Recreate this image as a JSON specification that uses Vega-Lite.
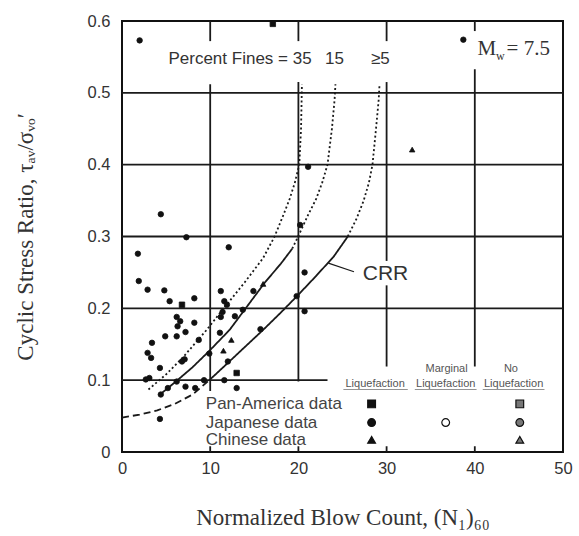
{
  "$schema": "https://vega.github.io/schema/vega-lite/v6.json",
  "width": 441,
  "height": 431,
  "autosize": {"type": "none"},
  "padding": {"left": 122, "top": 21, "right": 16, "bottom": 84},
  "background": "white",
  "config": {
    "view": {"stroke": "#111", "strokeWidth": 2},
    "text": {"font": "Liberation Sans", "color": "#333", "baseline": "middle"}
  },
  "datasets": {
    "grid": [
      {"x": 0, "x2": 50, "y": 0.5, "y2": 0.5},
      {"x": 0, "x2": 50, "y": 0.4, "y2": 0.4},
      {"x": 0, "x2": 50, "y": 0.3, "y2": 0.3},
      {"x": 0, "x2": 50, "y": 0.2, "y2": 0.2},
      {"x": 0, "x2": 23.3, "y": 0.1, "y2": 0.1},
      {"x": 10, "x2": 10, "y": 0.085, "y2": 0.512},
      {"x": 10, "x2": 10, "y": 0.572, "y2": 0.6},
      {"x": 20, "x2": 20, "y": 0.098, "y2": 0.515},
      {"x": 20, "x2": 20, "y": 0.572, "y2": 0.6},
      {"x": 30, "x2": 30, "y": 0.119, "y2": 0.232},
      {"x": 30, "x2": 30, "y": 0.266, "y2": 0.515},
      {"x": 30, "x2": 30, "y": 0.572, "y2": 0.6},
      {"x": 40, "x2": 40, "y": 0.119, "y2": 0.533},
      {"x": 40, "x2": 40, "y": 0.586, "y2": 0.6},
      {"x": 10, "x2": 10, "y": 0, "y2": 0.008},
      {"x": 20, "x2": 20, "y": 0, "y2": 0.008},
      {"x": 30, "x2": 30, "y": 0, "y2": 0.008},
      {"x": 40, "x2": 40, "y": 0, "y2": 0.008}
    ],
    "curves": [
      {"seg": "crr_solid", "style": "solid", "x": 9.9, "y": 0.1},
      {"seg": "crr_solid", "style": "solid", "x": 12, "y": 0.124},
      {"seg": "crr_solid", "style": "solid", "x": 14, "y": 0.147},
      {"seg": "crr_solid", "style": "solid", "x": 16, "y": 0.17},
      {"seg": "crr_solid", "style": "solid", "x": 18, "y": 0.194},
      {"seg": "crr_solid", "style": "solid", "x": 20, "y": 0.219},
      {"seg": "crr_solid", "style": "solid", "x": 22, "y": 0.245},
      {"seg": "crr_solid", "style": "solid", "x": 24, "y": 0.272},
      {"seg": "crr_solid", "style": "solid", "x": 25.6, "y": 0.3},
      {"seg": "crr_dot", "style": "dotted", "x": 25.6, "y": 0.3},
      {"seg": "crr_dot", "style": "dotted", "x": 26.6, "y": 0.325},
      {"seg": "crr_dot", "style": "dotted", "x": 27.4, "y": 0.35},
      {"seg": "crr_dot", "style": "dotted", "x": 28.0, "y": 0.375},
      {"seg": "crr_dot", "style": "dotted", "x": 28.4, "y": 0.4},
      {"seg": "crr_dot", "style": "dotted", "x": 28.8, "y": 0.45},
      {"seg": "crr_dot", "style": "dotted", "x": 29.1, "y": 0.49},
      {"seg": "crr_dot", "style": "dotted", "x": 29.2, "y": 0.512},
      {"seg": "base", "style": "dashed", "x": 0, "y": 0.048},
      {"seg": "base", "style": "dashed", "x": 2, "y": 0.052},
      {"seg": "base", "style": "dashed", "x": 4, "y": 0.058},
      {"seg": "base", "style": "dashed", "x": 6, "y": 0.067},
      {"seg": "base", "style": "dashed", "x": 8, "y": 0.08},
      {"seg": "base", "style": "dashed", "x": 9.9, "y": 0.1},
      {"seg": "f15_solid", "style": "solid", "x": 4.3, "y": 0.08},
      {"seg": "f15_solid", "style": "solid", "x": 6, "y": 0.097},
      {"seg": "f15_solid", "style": "solid", "x": 8, "y": 0.118},
      {"seg": "f15_solid", "style": "solid", "x": 10, "y": 0.142},
      {"seg": "f15_solid", "style": "solid", "x": 12.2, "y": 0.17},
      {"seg": "f15_solid", "style": "solid", "x": 13.9, "y": 0.198},
      {"seg": "f15_solid", "style": "solid", "x": 16.2, "y": 0.236},
      {"seg": "f15_solid", "style": "solid", "x": 18, "y": 0.262},
      {"seg": "f15_solid", "style": "solid", "x": 19.3, "y": 0.283},
      {"seg": "f15_dot", "style": "dotted", "x": 19.3, "y": 0.283},
      {"seg": "f15_dot", "style": "dotted", "x": 20.2, "y": 0.306},
      {"seg": "f15_dot", "style": "dotted", "x": 21.1, "y": 0.33},
      {"seg": "f15_dot", "style": "dotted", "x": 22, "y": 0.352},
      {"seg": "f15_dot", "style": "dotted", "x": 22.7, "y": 0.375},
      {"seg": "f15_dot", "style": "dotted", "x": 23.3, "y": 0.4},
      {"seg": "f15_dot", "style": "dotted", "x": 23.8, "y": 0.45},
      {"seg": "f15_dot", "style": "dotted", "x": 24.1, "y": 0.49},
      {"seg": "f15_dot", "style": "dotted", "x": 24.2, "y": 0.512},
      {"seg": "f35", "style": "dotted", "x": 3.0, "y": 0.087},
      {"seg": "f35", "style": "dotted", "x": 5, "y": 0.108},
      {"seg": "f35", "style": "dotted", "x": 7, "y": 0.133},
      {"seg": "f35", "style": "dotted", "x": 9.6, "y": 0.17},
      {"seg": "f35", "style": "dotted", "x": 11.4, "y": 0.198},
      {"seg": "f35", "style": "dotted", "x": 13.9, "y": 0.236},
      {"seg": "f35", "style": "dotted", "x": 16, "y": 0.27},
      {"seg": "f35", "style": "dotted", "x": 17.3, "y": 0.3},
      {"seg": "f35", "style": "dotted", "x": 18.3, "y": 0.33},
      {"seg": "f35", "style": "dotted", "x": 19, "y": 0.352},
      {"seg": "f35", "style": "dotted", "x": 19.6, "y": 0.375},
      {"seg": "f35", "style": "dotted", "x": 20.1, "y": 0.4},
      {"seg": "f35", "style": "dotted", "x": 20.3, "y": 0.45},
      {"seg": "f35", "style": "dotted", "x": 20.4, "y": 0.512}
    ],
    "leader": [{"x": 23.4, "x2": 26.3, "y": 0.263, "y2": 0.251}],
    "underline": [
      {"x": 25.1, "x2": 32.4, "y": 0.087, "y2": 0.087},
      {"x": 33.2, "x2": 40.2, "y": 0.087, "y2": 0.087},
      {"x": 40.9, "x2": 47.9, "y": 0.087, "y2": 0.087}
    ],
    "pts": [
      {"source": "Japanese", "outcome": "Liquefaction", "x": 2.0, "y": 0.573},
      {"source": "Pan-America", "outcome": "Liquefaction", "x": 17.1, "y": 0.596},
      {"source": "Japanese", "outcome": "Liquefaction", "x": 38.7, "y": 0.574},
      {"source": "Chinese", "outcome": "Liquefaction", "x": 32.9, "y": 0.421},
      {"source": "Japanese", "outcome": "Liquefaction", "x": 21.1, "y": 0.397},
      {"source": "Japanese", "outcome": "Liquefaction", "x": 20.2, "y": 0.316},
      {"source": "Japanese", "outcome": "Liquefaction", "x": 12.1, "y": 0.285},
      {"source": "Japanese", "outcome": "Liquefaction", "x": 20.7, "y": 0.25},
      {"source": "Japanese", "outcome": "Liquefaction", "x": 4.4, "y": 0.331},
      {"source": "Japanese", "outcome": "Liquefaction", "x": 7.3, "y": 0.299},
      {"source": "Japanese", "outcome": "Liquefaction", "x": 1.8, "y": 0.276},
      {"source": "Japanese", "outcome": "Liquefaction", "x": 1.9, "y": 0.238},
      {"source": "Japanese", "outcome": "Liquefaction", "x": 2.9, "y": 0.226},
      {"source": "Japanese", "outcome": "Liquefaction", "x": 4.8, "y": 0.225},
      {"source": "Japanese", "outcome": "Liquefaction", "x": 5.4, "y": 0.21},
      {"source": "Pan-America", "outcome": "Liquefaction", "x": 6.8, "y": 0.205},
      {"source": "Japanese", "outcome": "Liquefaction", "x": 8.2, "y": 0.214},
      {"source": "Japanese", "outcome": "Liquefaction", "x": 11.2, "y": 0.224},
      {"source": "Japanese", "outcome": "Liquefaction", "x": 14.9, "y": 0.224},
      {"source": "Chinese", "outcome": "Liquefaction", "x": 16.0, "y": 0.234},
      {"source": "Japanese", "outcome": "Liquefaction", "x": 19.8, "y": 0.217},
      {"source": "Japanese", "outcome": "Liquefaction", "x": 20.7, "y": 0.196},
      {"source": "Japanese", "outcome": "Liquefaction", "x": 6.2, "y": 0.188},
      {"source": "Japanese", "outcome": "Liquefaction", "x": 6.6, "y": 0.182},
      {"source": "Japanese", "outcome": "Liquefaction", "x": 6.3, "y": 0.175},
      {"source": "Japanese", "outcome": "Liquefaction", "x": 8.2, "y": 0.18},
      {"source": "Japanese", "outcome": "Liquefaction", "x": 7.2, "y": 0.167},
      {"source": "Japanese", "outcome": "Liquefaction", "x": 4.9, "y": 0.161},
      {"source": "Japanese", "outcome": "Liquefaction", "x": 6.2, "y": 0.161},
      {"source": "Japanese", "outcome": "Liquefaction", "x": 8.7, "y": 0.156},
      {"source": "Japanese", "outcome": "Liquefaction", "x": 3.4, "y": 0.152},
      {"source": "Japanese", "outcome": "Liquefaction", "x": 2.9, "y": 0.138},
      {"source": "Japanese", "outcome": "Liquefaction", "x": 3.3, "y": 0.131},
      {"source": "Japanese", "outcome": "Liquefaction", "x": 7.1, "y": 0.129},
      {"source": "Japanese", "outcome": "Liquefaction", "x": 6.8, "y": 0.126},
      {"source": "Japanese", "outcome": "Liquefaction", "x": 9.9, "y": 0.137},
      {"source": "Japanese", "outcome": "Liquefaction", "x": 4.3, "y": 0.117},
      {"source": "Japanese", "outcome": "Liquefaction", "x": 3.1, "y": 0.103},
      {"source": "Japanese", "outcome": "Liquefaction", "x": 2.7, "y": 0.101},
      {"source": "Japanese", "outcome": "Liquefaction", "x": 4.4, "y": 0.08},
      {"source": "Japanese", "outcome": "Liquefaction", "x": 5.2, "y": 0.089},
      {"source": "Japanese", "outcome": "Liquefaction", "x": 6.2, "y": 0.098},
      {"source": "Japanese", "outcome": "Liquefaction", "x": 7.2, "y": 0.091},
      {"source": "Japanese", "outcome": "Liquefaction", "x": 8.3, "y": 0.089},
      {"source": "Japanese", "outcome": "Liquefaction", "x": 9.3, "y": 0.1},
      {"source": "Japanese", "outcome": "Liquefaction", "x": 11.6, "y": 0.1},
      {"source": "Japanese", "outcome": "Liquefaction", "x": 4.3, "y": 0.046},
      {"source": "Japanese", "outcome": "Liquefaction", "x": 11.6, "y": 0.21},
      {"source": "Japanese", "outcome": "Liquefaction", "x": 11.9, "y": 0.205},
      {"source": "Japanese", "outcome": "Liquefaction", "x": 11.4, "y": 0.195},
      {"source": "Japanese", "outcome": "Liquefaction", "x": 11.2, "y": 0.188},
      {"source": "Japanese", "outcome": "Liquefaction", "x": 13.7, "y": 0.198},
      {"source": "Japanese", "outcome": "Liquefaction", "x": 12.8, "y": 0.189},
      {"source": "Japanese", "outcome": "Liquefaction", "x": 11.1, "y": 0.166},
      {"source": "Chinese", "outcome": "Liquefaction", "x": 12.4, "y": 0.156},
      {"source": "Japanese", "outcome": "Liquefaction", "x": 15.7, "y": 0.171},
      {"source": "Chinese", "outcome": "Liquefaction", "x": 11.5, "y": 0.141},
      {"source": "Japanese", "outcome": "Liquefaction", "x": 12.0, "y": 0.126},
      {"source": "Pan-America", "outcome": "Liquefaction", "x": 13.0, "y": 0.11},
      {"source": "Japanese", "outcome": "Liquefaction", "x": 13.0, "y": 0.089}
    ],
    "keys": [
      {"source": "Pan-America", "outcome": "Liquefaction", "x": 28.3, "y": 0.067},
      {"source": "Japanese", "outcome": "Liquefaction", "x": 28.3, "y": 0.041},
      {"source": "Chinese", "outcome": "Liquefaction", "x": 28.3, "y": 0.017},
      {"source": "Japanese", "outcome": "Marginal", "x": 36.7, "y": 0.041},
      {"source": "Pan-America", "outcome": "No Liquefaction", "x": 45.1, "y": 0.067},
      {"source": "Japanese", "outcome": "No Liquefaction", "x": 45.1, "y": 0.041},
      {"source": "Chinese", "outcome": "No Liquefaction", "x": 45.1, "y": 0.017}
    ],
    "finesLabel": [{"x": 21.5, "y": 0.547, "t": "Percent Fines = 35"}],
    "finesVals": [{"x": 24.1, "y": 0.547, "t": "15"}, {"x": 29.3, "y": 0.547, "t": "≥5"}],
    "mwBig": [{"x": 40.3, "y": 0.561, "t": "M"}, {"x": 43.6, "y": 0.561, "t": "= 7.5"}],
    "mwSub": [{"x": 42.4, "y": 0.551, "t": "w"}],
    "crr": [{"x": 27.3, "y": 0.248, "t": "CRR"}],
    "rows": [
      {"x": 9.5, "y": 0.067, "t": "Pan-America data"},
      {"x": 9.5, "y": 0.041, "t": "Japanese data"},
      {"x": 9.5, "y": 0.017, "t": "Chinese data"}
    ],
    "heads": [
      {"x": 28.7, "y": 0.095, "t": "Liquefaction"},
      {"x": 36.7, "y": 0.095, "t": "Liquefaction"},
      {"x": 44.4, "y": 0.095, "t": "Liquefaction"},
      {"x": 36.8, "y": 0.116, "t": "Marginal"},
      {"x": 44.1, "y": 0.116, "t": "No"}
    ]
  },
  "layer": [
    {
      "data": {"name": "grid"},
      "mark": {"type": "rule", "color": "#1a1a1a", "strokeWidth": 1.8},
      "encoding": {
        "x": {
          "field": "x", "type": "quantitative",
          "scale": {"domain": [0, 50], "nice": false, "zero": false},
          "axis": {
            "values": [0, 10, 20, 30, 40, 50],
            "title": "Normalized Blow Count, (N₁)₆₀",
            "domain": false, "ticks": false, "grid": false,
            "labelFont": "Liberation Sans", "labelFontSize": 16.5, "labelColor": "#333",
            "labelPadding": 8, "labelDx": 5, "labelFlush": false,
            "titleFont": "Liberation Serif", "titleFontSize": 23, "titleFontWeight": "normal",
            "titleColor": "#333", "titlePadding": 30
          }
        },
        "x2": {"field": "x2"},
        "y": {
          "field": "y", "type": "quantitative",
          "scale": {"domain": [0, 0.6], "nice": false, "zero": false},
          "axis": {
            "values": [0, 0.1, 0.2, 0.3, 0.4, 0.5, 0.6],
            "format": ".1~f",
            "title": "Cyclic Stress Ratio, τₐᵥ/σᵥₒ′",
            "domain": false, "ticks": false, "grid": false,
            "labelFont": "Liberation Sans", "labelFontSize": 16.5, "labelColor": "#333",
            "labelPadding": 12, "labelFlush": false,
            "titleFont": "Liberation Serif", "titleFontSize": 23, "titleFontWeight": "normal",
            "titleColor": "#333", "titlePadding": 50
          }
        },
        "y2": {"field": "y2"}
      }
    },
    {
      "data": {"name": "curves"},
      "mark": {"type": "line", "color": "#1a1a1a", "strokeWidth": 1.8},
      "encoding": {
        "x": {"field": "x", "type": "quantitative"},
        "y": {"field": "y", "type": "quantitative"},
        "detail": {"field": "seg"},
        "order": {"field": "y", "type": "quantitative"},
        "strokeDash": {
          "field": "style", "type": "nominal",
          "scale": {"domain": ["solid", "dotted", "dashed"], "range": [[1, 0], [2, 2.5], [7, 4]]},
          "legend": null
        }
      }
    },
    {
      "data": {"name": "leader"},
      "mark": {"type": "rule", "color": "#1a1a1a", "strokeWidth": 1.2},
      "encoding": {
        "x": {"field": "x", "type": "quantitative"},
        "x2": {"field": "x2"},
        "y": {"field": "y", "type": "quantitative"},
        "y2": {"field": "y2"}
      }
    },
    {
      "data": {"name": "underline"},
      "mark": {"type": "rule", "color": "#777", "strokeWidth": 0.8},
      "encoding": {
        "x": {"field": "x", "type": "quantitative"},
        "x2": {"field": "x2"},
        "y": {"field": "y", "type": "quantitative"},
        "y2": {"field": "y2"}
      }
    },
    {
      "data": {"name": "pts"},
      "mark": {"type": "point", "filled": true, "size": 30, "stroke": "#111", "strokeWidth": 0.8, "opacity": 1},
      "encoding": {
        "x": {"field": "x", "type": "quantitative"},
        "y": {"field": "y", "type": "quantitative"},
        "shape": {
          "field": "source", "type": "nominal",
          "scale": {"domain": ["Pan-America", "Japanese", "Chinese"], "range": ["square", "circle", "triangle-up"]},
          "legend": null
        },
        "fill": {
          "field": "outcome", "type": "nominal",
          "scale": {"domain": ["Liquefaction", "Marginal", "No Liquefaction"], "range": ["#111", "#ffffff", "#777777"]},
          "legend": null
        }
      }
    },
    {
      "data": {"name": "keys"},
      "mark": {"type": "point", "filled": true, "size": 60, "stroke": "#111", "strokeWidth": 1.2, "opacity": 1},
      "encoding": {
        "x": {"field": "x", "type": "quantitative"},
        "y": {"field": "y", "type": "quantitative"},
        "shape": {"field": "source", "type": "nominal", "legend": null},
        "fill": {"field": "outcome", "type": "nominal", "legend": null}
      }
    },
    {
      "data": {"name": "finesLabel"},
      "mark": {"type": "text", "align": "right", "fontSize": 17},
      "encoding": {
        "x": {"field": "x", "type": "quantitative"},
        "y": {"field": "y", "type": "quantitative"},
        "text": {"field": "t"}
      }
    },
    {
      "data": {"name": "finesVals"},
      "mark": {"type": "text", "align": "center", "fontSize": 17},
      "encoding": {
        "x": {"field": "x", "type": "quantitative"},
        "y": {"field": "y", "type": "quantitative"},
        "text": {"field": "t"}
      }
    },
    {
      "data": {"name": "mwBig"},
      "mark": {"type": "text", "align": "left", "fontSize": 21, "font": "Liberation Serif"},
      "encoding": {
        "x": {"field": "x", "type": "quantitative"},
        "y": {"field": "y", "type": "quantitative"},
        "text": {"field": "t"}
      }
    },
    {
      "data": {"name": "mwSub"},
      "mark": {"type": "text", "align": "left", "fontSize": 12, "font": "Liberation Serif"},
      "encoding": {
        "x": {"field": "x", "type": "quantitative"},
        "y": {"field": "y", "type": "quantitative"},
        "text": {"field": "t"}
      }
    },
    {
      "data": {"name": "crr"},
      "mark": {"type": "text", "align": "left", "fontSize": 21},
      "encoding": {
        "x": {"field": "x", "type": "quantitative"},
        "y": {"field": "y", "type": "quantitative"},
        "text": {"field": "t"}
      }
    },
    {
      "data": {"name": "rows"},
      "mark": {"type": "text", "align": "left", "fontSize": 17, "color": "#444"},
      "encoding": {
        "x": {"field": "x", "type": "quantitative"},
        "y": {"field": "y", "type": "quantitative"},
        "text": {"field": "t"}
      }
    },
    {
      "data": {"name": "heads"},
      "mark": {"type": "text", "align": "center", "fontSize": 11, "color": "#555"},
      "encoding": {
        "x": {"field": "x", "type": "quantitative"},
        "y": {"field": "y", "type": "quantitative"},
        "text": {"field": "t"}
      }
    }
  ]
}
